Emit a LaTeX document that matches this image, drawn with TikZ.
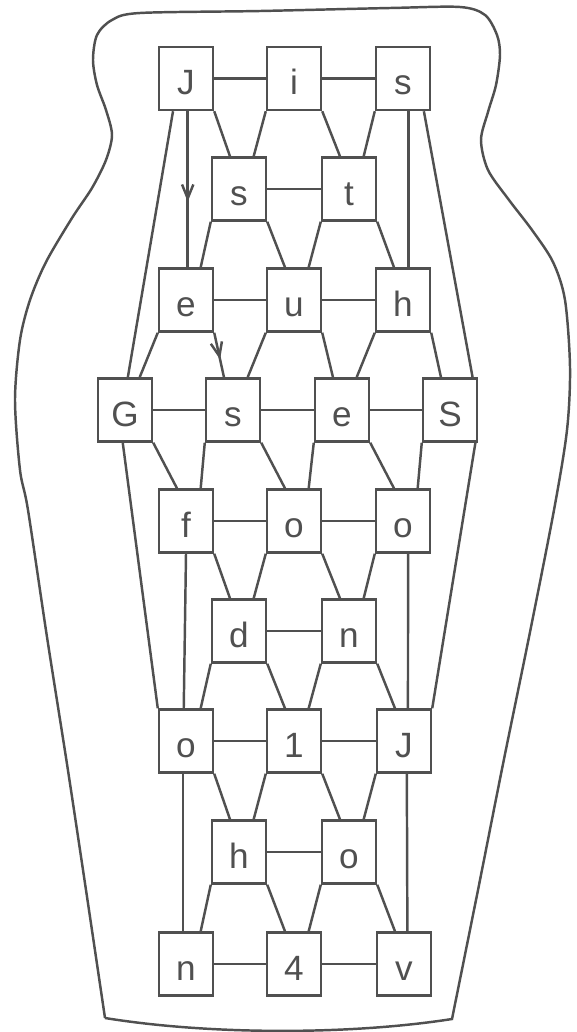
\documentclass[tikz,border=0pt]{standalone}
\usepackage{fontspec}
\setmainfont{Liberation Sans}
\usetikzlibrary{calc,arrows.meta,decorations.markings}
\definecolor{ink}{RGB}{80,80,80}
\newcommand\linkDR[3][]{\draw[#1] (#2.south east) -- ($(#3.north west)!0.34!(#3.north east)$);}
\newcommand\linkDL[3][]{\draw[#1] (#2.south west) -- ($(#3.north west)!0.76!(#3.north east)$);}
\newcommand\linkV[5][]{\draw[#1] ($(#2.south west)!#3!(#2.south east)$) -- ($(#4.north west)!#5!(#4.north east)$);}
\begin{document}
\begin{tikzpicture}[x=0.03cm,y=-0.03cm,line width=2.1pt,draw=ink,
  box/.style={draw=ink,rectangle,minimum width=1.62cm,minimum height=1.89cm,inner sep=0pt,
    text height=27.5pt,text depth=0pt,font=\fontsize{30}{34}\selectfont,text=ink},
  midarrow/.style={postaction={decorate},decoration={markings,
    mark=at position #1 with {\arrow{Straight Barb[length=4.2mm,width=3.4mm]}}}}]
\useasboundingbox (0,0) rectangle (576,1032);
% vase outline
\draw plot[smooth,tension=0.5] coordinates {
 (105,1018) (86,890) (67,764) (47,637) (28,510) (20,470) (15,400) (20,340) (30,300)
 (46,262) (72,218) (92,188) (106,160) (112,135) (106,110) (97,85) (93,60) (97,35)
 (112,20) (140,13) (260,11) (390,8) (460,7) (485,15) (497,35) (500,55) (496,85)
 (488,112) (481,140) (488,170) (509,200) (532,230) (553,262) (565,300) (570,367)
 (567,430) (554,510) (529,637) (503,764) (478,890) (452,1019)}
 .. controls (350,1035) and (210,1035) .. (105,1018);
% nodes
\node[box] (J1) at (186,78.5) {J};
\node[box] (i1) at (294,78.5) {i};
\node[box] (s1) at (403,78.5) {s};
\node[box] (s2) at (239,189) {s};
\node[box] (t2) at (349,189) {t};
\node[box] (e3) at (186,300) {e};
\node[box] (u3) at (294,300) {u};
\node[box] (h3) at (403,300) {h};
\node[box] (G4) at (125,410) {G};
\node[box] (s4) at (233,410) {s};
\node[box] (e4) at (342,410) {e};
\node[box] (S4) at (450,410) {S};
\node[box] (f5) at (186,521) {f};
\node[box] (o5) at (294,521) {o};
\node[box] (oo5) at (403,521) {o};
\node[box] (d6) at (239,631) {d};
\node[box] (n6) at (349,631) {n};
\node[box] (o7) at (186,741) {o};
\node[box] (one7) at (294,741) {1};
\node[box] (J7) at (404,741) {J};
\node[box] (h8) at (239,852) {h};
\node[box] (o8) at (349,852) {o};
\node[box] (n9) at (186,964) {n};
\node[box] (four9) at (294,964) {4};
\node[box] (v9) at (404,964) {v};
% horizontal links
\draw (J1) -- (i1); \draw (i1) -- (s1);
\draw (s2) -- (t2);
\draw (e3) -- (u3); \draw (u3) -- (h3);
\draw (G4) -- (s4); \draw (s4) -- (e4); \draw (e4) -- (S4);
\draw (f5) -- (o5); \draw (o5) -- (oo5);
\draw (d6) -- (n6);
\draw (o7) -- (one7); \draw (one7) -- (J7);
\draw (h8) -- (o8);
\draw (n9) -- (four9); \draw (four9) -- (v9);
% diagonal links
\linkDR{J1}{s2} \linkDL{i1}{s2} \linkDR{i1}{t2} \linkDL{s1}{t2}
\linkDL{s2}{e3} \linkDR{s2}{u3} \linkDL{t2}{u3} \linkDR{t2}{h3}
\linkDL{e3}{G4} \linkDR[midarrow=0.6]{e3}{s4} \linkDL{u3}{s4} \linkDR{u3}{e4} \linkDL{h3}{e4} \linkDR{h3}{S4}
\linkDR{G4}{f5} \linkDL{s4}{f5} \linkDR{s4}{o5} \linkDL{e4}{o5} \linkDR{e4}{oo5} \linkDL{S4}{oo5}
\linkDR{f5}{d6} \linkDL{o5}{d6} \linkDR{o5}{n6} \linkDL{oo5}{n6}
\linkDL{d6}{o7} \linkDR{d6}{one7} \linkDL{n6}{one7} \linkDR{n6}{J7}
\linkDR{o7}{h8} \linkDL{one7}{h8} \linkDR{one7}{o8} \linkDL{J7}{o8}
\linkDL{h8}{n9} \linkDR{h8}{four9} \linkDL{o8}{four9} \linkDR{o8}{v9}
% long and vertical links
\linkV{J1}{0.27}{G4}{0.55}
\linkV[midarrow=0.58]{J1}{0.53}{e3}{0.53}
\linkV{s1}{0.6}{h3}{0.6}
\linkV{s1}{0.87}{S4}{0.9}
\draw ($(G4.south west)!0.46!(G4.south east)$) -- (o7.north west);
\draw ($(S4.south west)!0.95!(S4.south east)$) -- (J7.north east);
\linkV{f5}{0.5}{o7}{0.46}
\linkV{oo5}{0.59}{J7}{0.57}
\linkV{o7}{0.45}{n9}{0.45}
\linkV{J7}{0.55}{v9}{0.56}
\end{tikzpicture}
\end{document}
